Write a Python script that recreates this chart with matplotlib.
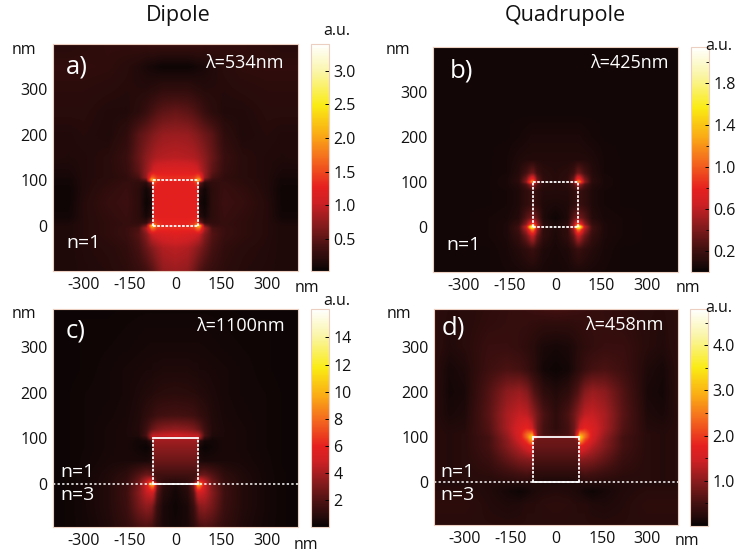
import numpy as np
import matplotlib
matplotlib.use("Agg")
import matplotlib.pyplot as plt
from matplotlib.colors import LinearSegmentedColormap
from matplotlib.ticker import MultipleLocator

plt.rcParams['font.family'] = ['Open Sans', 'DejaVu Sans']

W, H = 743, 552

# ---------------- DATA (a.u.) ----------------
# Half grid in x (mirrored about x=0), rows from y=400 down to y=-100
x_nodes = [0, 40, 60, 72, 78, 95, 120, 160, 220, 300, 350, 400]
y_nodes = [400, 350, 300, 250, 200, 150, 120, 106, 100, 94, 80, 50, 20, 6, 0, -6, -20, -50, -100]

field_a = [
    [.30, .30, .30, .30, .30, .28, .28, .26, .25, .22, .20, .20],
    [.06, .06, .08, .10, .10, .12, .16, .20, .24, .25, .25, .25],
    [.25, .25, .22, .20, .20, .18, .18, .18, .20, .22, .22, .22],
    [.55, .50, .45, .40, .38, .30, .22, .16, .16, .20, .20, .20],
    [.80, .78, .72, .68, .65, .58, .48, .24, .15, .18, .16, .16],
    [.95, .92, .90, .85, .82, .72, .55, .30, .20, .16, .15, .16],
    [1.2, 1.2, 1.15, 1.1, 1.0, .78, .50, .28, .20, .16, .12, .12],
    [1.35, 1.35, 1.4, 1.6, 1.6, .80, .40, .25, .20, .16, .10, .10],
    [1.3, 1.3, 1.45, 2.2, 2.2, .50, .30, .26, .22, .16, .08, .08],
    [1.25, 1.25, 1.3, 1.5, .60, .20, .25, .28, .22, .16, .08, .08],
    [1.25, 1.25, 1.25, 1.25, .20, .08, .22, .30, .25, .16, .06, .06],
    [1.25, 1.25, 1.25, 1.25, .12, .05, .22, .32, .28, .18, .06, .06],
    [1.25, 1.25, 1.25, 1.25, .20, .10, .22, .30, .25, .18, .08, .08],
    [1.3, 1.3, 1.35, 1.5, .70, .25, .25, .28, .24, .18, .12, .12],
    [1.3, 1.3, 1.5, 2.3, 2.3, .60, .30, .28, .24, .18, .14, .14],
    [1.35, 1.35, 1.4, 1.7, 1.7, .90, .40, .30, .24, .18, .14, .14],
    [1.2, 1.15, 1.1, 1.05, 1.0, .70, .45, .30, .24, .18, .14, .14],
    [.95, .90, .80, .72, .68, .55, .38, .25, .20, .17, .14, .14],
    [.80, .75, .60, .50, .45, .35, .28, .22, .18, .16, .14, .14],
]

field_b = [
    [.04, .04, .04, .04, .04, .04, .04, .04, .04, .04, .04, .04],
    [.04, .04, .04, .04, .04, .04, .04, .04, .04, .04, .04, .04],
    [.04, .04, .04, .04, .04, .04, .04, .04, .04, .04, .04, .04],
    [.04, .04, .04, .04, .04, .04, .04, .04, .04, .04, .04, .04],
    [.07, .07, .07, .07, .07, .06, .05, .04, .04, .04, .04, .04],
    [.09, .09, .09, .09, .09, .09, .08, .05, .04, .04, .04, .04],
    [.10, .12, .20, .35, .35, .22, .10, .05, .04, .04, .04, .04],
    [.10, .14, .35, .85, .85, .40, .12, .06, .04, .04, .04, .04],
    [.10, .13, .40, 1.2, 1.2, .45, .12, .06, .04, .04, .04, .04],
    [.10, .12, .25, .50, .50, .25, .10, .06, .04, .04, .04, .04],
    [.10, .10, .14, .20, .18, .14, .08, .05, .04, .04, .04, .04],
    [.07, .08, .14, .20, .18, .14, .08, .05, .04, .04, .04, .04],
    [.03, .08, .30, .40, .38, .28, .10, .06, .05, .04, .04, .04],
    [.06, .12, .50, 1.0, .90, .45, .16, .07, .05, .04, .04, .04],
    [.08, .15, .60, 1.9, 1.9, .65, .20, .07, .05, .04, .04, .04],
    [.08, .14, .50, 1.1, 1.1, .55, .20, .07, .05, .04, .04, .04],
    [.07, .14, .34, .60, .60, .36, .16, .07, .05, .04, .04, .04],
    [.06, .08, .14, .18, .18, .14, .10, .06, .04, .04, .04, .04],
    [.05, .06, .07, .07, .07, .07, .06, .05, .04, .04, .04, .04],
]

field_c = [
    [.20, .20, .20, .20, .20, .20, .20, .18, .15, .15, .15, .15],
    [.30, .30, .30, .30, .30, .30, .28, .25, .20, .20, .15, .15],
    [.40, .40, .40, .40, .40, .38, .35, .30, .25, .20, .15, .15],
    [.60, .60, .55, .55, .50, .50, .45, .40, .30, .20, .15, .15],
    [.90, .85, .80, .75, .70, .65, .55, .40, .30, .25, .18, .15],
    [1.7, 1.6, 1.5, 1.3, 1.2, 1.0, .65, .45, .35, .25, .18, .15],
    [3.5, 3.3, 3.0, 2.6, 2.4, 1.5, .70, .50, .40, .25, .18, .15],
    [5.0, 4.8, 4.6, 4.6, 4.2, 1.8, .60, .50, .40, .25, .18, .15],
    [4.0, 4.0, 4.2, 5.0, 4.0, 1.0, .40, .50, .40, .25, .18, .15],
    [3.8, 3.8, 3.8, 3.8, 1.0, .40, .30, .50, .40, .25, .18, .15],
    [3.4, 3.4, 3.4, 3.4, .40, .10, .25, .50, .40, .25, .18, .15],
    [2.6, 2.6, 2.6, 2.6, .60, .50, .50, .50, .45, .28, .18, .15],
    [1.6, 1.6, 1.6, 1.8, 2.5, 2.6, 2.0, 1.0, .60, .30, .20, .15],
    [.90, 1.1, 1.6, 3.5, 6.0, 4.5, 2.6, 1.2, .65, .30, .20, .15],
    [.60, 1.0, 3.0, 11., 11., 5.0, 2.8, 1.3, .70, .35, .20, .15],
    [.40, .90, 2.8, 8.0, 8.0, 5.0, 3.0, 1.4, .70, .35, .20, .15],
    [.30, .80, 2.2, 4.8, 5.0, 4.6, 3.2, 1.5, .70, .35, .20, .15],
    [.20, .50, 1.4, 2.6, 3.2, 3.4, 2.8, 1.4, .70, .35, .20, .15],
    [.30, .50, .90, 1.3, 1.5, 1.7, 1.6, 1.1, .60, .30, .20, .15],
]

field_d = [
    [.60, .55, .50, .48, .46, .42, .38, .35, .30, .25, .25, .30],
    [.30, .30, .32, .33, .33, .36, .36, .36, .33, .25, .22, .30],
    [.12, .15, .20, .25, .26, .30, .35, .40, .40, .25, .20, .30],
    [.05, .10, .20, .28, .30, .40, .50, .55, .45, .18, .12, .28],
    [.20, .30, .50, .60, .70, .95, 1.1, 1.0, .60, .14, .10, .28],
    [.30, .55, .80, 1.0, 1.1, 1.35, 1.4, 1.2, .65, .18, .14, .25],
    [.30, .50, .80, 1.2, 1.5, 1.8, 1.6, 1.2, .60, .22, .20, .25],
    [.40, .50, .80, 1.9, 2.8, 2.4, 1.6, 1.1, .55, .25, .22, .25],
    [.80, .80, .90, 2.6, 3.4, 2.4, 1.55, 1.05, .50, .25, .22, .25],
    [.80, .80, .80, .90, 3.0, 2.1, 1.5, 1.0, .50, .25, .22, .25],
    [.75, .75, .75, .75, 1.8, 1.6, 1.3, .95, .50, .25, .22, .25],
    [.55, .55, .55, .55, 1.0, .95, .90, .70, .40, .25, .22, .25],
    [.30, .30, .30, .30, .50, .55, .50, .42, .30, .25, .22, .25],
    [.20, .20, .22, .25, .30, .35, .35, .30, .25, .25, .22, .25],
    [.15, .18, .18, .20, .22, .22, .22, .22, .22, .22, .22, .22],
    [.18, .18, .18, .18, .18, .18, .18, .18, .20, .22, .22, .22],
    [.22, .20, .18, .16, .15, .10, .06, .12, .20, .25, .25, .25],
    [.30, .28, .25, .24, .24, .24, .20, .18, .22, .30, .30, .30],
    [.25, .25, .25, .25, .25, .25, .25, .25, .25, .25, .25, .25],
]

x_ticks = [-300, -150, 0, 150, 300]
x_tick_labels = ['-300', '-150', '0', '150', '300']
y_ticks = [0, 100, 200, 300]

# Colour scale stops (position, colour)
cmap_stops = [(0, '#080404'), (.05, '#280b0b'), (.1, '#421010'), (.2, '#861b1d'), (.3, '#cd2024'),
              (.37, '#e6201f'), (.5, '#f56e1e'), (.6, '#faaa14'), (.73, '#faeb14'), (.88, '#faf5aa'), (1, '#ffffff')]
cmap = LinearSegmentedColormap.from_list('field', cmap_stops)

# Panel layout in pixels: axes (l, t, r, b), colourbar (l, r, t, b)
panels = [
    dict(field=field_a, label='a)', wl='λ=534nm', box=(53, 44, 298, 271), ylim=(-100, 400),
         cbar=(311, 329, 44, 271), vlim=(0.02, 3.4), cticks=[.5, 1, 1.5, 2, 2.5, 3], cfmt='%.1f', cminor=None,
         solid=False, line=False, nm=(24, 50), nmx=(307, 288), au=(337, 31), lab=(77, 67), wlx=(244, 63), n=(84, 243)),
    dict(field=field_b, label='b)', wl='λ=425nm', box=(433, 47, 678, 272), ylim=(-100, 400),
         cbar=(691, 709, 47, 272), vlim=(0, 2.14), cticks=[.2, .6, 1, 1.4, 1.8], cfmt='%.1f', cminor=.2,
         solid=False, line=False, nm=(398, 50), nmx=(688, 288), au=(719, 46), lab=(461, 71), wlx=(629, 63), n=(463, 245)),
    dict(field=field_c, label='c)', wl='λ=1100nm', box=(53, 309, 298, 527), ylim=(-94, 383),
         cbar=(311, 329, 309, 527), vlim=(0, 16.1), cticks=[2, 4, 6, 8, 10, 12, 14], cfmt='%d', cminor=None,
         solid=True, line=True, nm=(24, 314), nmx=(306, 545), au=(337, 301), lab=(76, 331), wlx=(240, 326), n=None),
    dict(field=field_d, label='d)', wl='λ=458nm', box=(434, 309, 678, 525), ylim=(-94, 383),
         cbar=(690, 708, 309, 526), vlim=(0, 4.8), cticks=[1, 2, 3, 4], cfmt='%.1f', cminor=.5,
         solid=True, line=True, nm=(399, 314), nmx=(687, 541), au=(719, 308), lab=(453, 328), wlx=(624, 325), n=None),
]

edge = '#eccfc0'
x_half = np.array(x_nodes, dtype=float)
x_full = np.concatenate([-x_half[::-1], x_half[1:]])
y_full = np.array(y_nodes, dtype=float)[::-1]
x_fine = np.linspace(-400, 400, 801)
y_fine = np.linspace(-100, 400, 501)

fig = plt.figure(figsize=(W / 100, H / 100), dpi=100, facecolor='white')


def px(x, y):
    return x / W, 1 - y / H


def resample(field):
    # put the hand-read grid onto a regular one so imshow can show it
    half = np.array(field)[::-1]
    z = np.hstack([half[:, :0:-1], half])
    rows = np.array([np.interp(x_fine, x_full, row) for row in z])
    return np.array([np.interp(y_fine, y_full, col) for col in rows.T]).T


for p in panels:
    l, t, r, b = p['box']
    ax = fig.add_axes([l / W, 1 - b / H, (r - l) / W, (b - t) / H])
    mesh = ax.imshow(resample(p['field']), origin='lower', extent=(-400, 400, -100, 400), aspect='auto',
                     cmap=cmap, vmin=p['vlim'][0], vmax=p['vlim'][1], interpolation='bilinear')
    ax.set_xlim(-400, 400)
    ax.set_ylim(*p['ylim'])
    ax.set_xticks(x_ticks)
    ax.set_xticklabels(x_tick_labels)
    ax.set_yticks(y_ticks)
    ax.tick_params(length=0, labelsize=11.5, colors='#111111')
    ax.tick_params(axis='x', pad=4)
    ax.tick_params(axis='y', pad=4)
    for s in ax.spines.values():
        s.set_color(edge)
        s.set_linewidth(0.8)

    # antenna cross-section
    hs = '-' if p['solid'] else (0, (1.5, 0.8))
    ax.plot([-75, 75], [100, 100], color='white', lw=1.3, ls=hs)
    ax.plot([-75, 75], [0, 0], color='white', lw=1.3, ls=hs)
    for xs in (-75, 75):
        ax.plot([xs, xs], [0, 100], color='white', lw=1.3, ls=(0, (1.5, 0.8)))
    if p['line']:
        ax.axhline(0, color='white', lw=1.1, ls=(0, (1.5, 1.5)))

    cl, cr, ct, cb = p['cbar']
    cax = fig.add_axes([cl / W, 1 - cb / H, (cr - cl) / W, (cb - ct) / H])
    cbar = fig.colorbar(mesh, cax=cax)
    cbar.set_ticks(p['cticks'])
    cbar.ax.set_yticklabels([p['cfmt'] % v for v in p['cticks']])
    cbar.ax.tick_params(which='major', length=3, width=0.7, direction='in', color='black',
                        labelsize=11.5, pad=3, labelcolor='#111111')
    if p['cminor']:
        cbar.ax.yaxis.set_minor_locator(MultipleLocator(p['cminor']))
        cbar.ax.tick_params(which='minor', length=2, width=0.6, direction='in', color='black')
    else:
        cbar.ax.minorticks_off()
    cbar.outline.set_edgecolor(edge)
    cbar.outline.set_linewidth(0.8)

    fig.text(*px(*p['nm']), 'nm', fontsize=11.5, ha='center', va='center', color='#111111')
    fig.text(*px(*p['nmx']), 'nm', fontsize=11.5, ha='center', va='center', color='#111111')
    fig.text(*px(*p['au']), 'a.u.', fontsize=11.5, ha='center', va='center', color='#111111')
    fig.text(*px(*p['lab']), p['label'], fontsize=18.5, ha='center', va='center', color='white')
    fig.text(*px(*p['wlx']), p['wl'], fontsize=13, ha='center', va='center', color='white')
    if p['n']:
        fig.text(*px(*p['n']), 'n=1', fontsize=14, ha='center', va='center', color='white')
    else:
        fig.text(*px(l + 24, 472), 'n=1', fontsize=14, ha='center', va='center', color='white')
        fig.text(*px(l + 24, 495), 'n=3', fontsize=14, ha='center', va='center', color='white')

fig.text(*px(178, 16), 'Dipole', fontsize=15.5, ha='center', va='center', color='#111111')
fig.text(*px(565, 16), 'Quadrupole', fontsize=15.5, ha='center', va='center', color='#111111')

fig.savefig('out.png', dpi=100)
